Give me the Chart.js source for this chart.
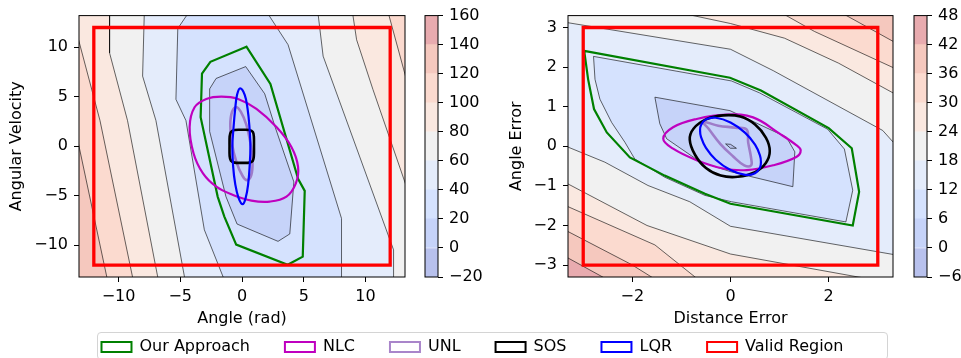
<!DOCTYPE html>
<html>
<head>
<meta charset="utf-8">
<script src="https://cdn.jsdelivr.net/npm/chart.js@4.4.1/dist/chart.umd.min.js"></script>
<style>
  body { margin: 0; background: #fff; width: 961px; height: 358px; overflow: hidden; position: relative; }
  canvas { position: absolute; }
  #legendFrame { position: absolute; left: 97px; top: 332px; width: 789px; height: 26px;
                 border: 1px solid #d4d4d4; border-radius: 4px; }
</style>
</head>
<body>
<div id="legendFrame"></div>
<canvas id="left" width="420" height="330" style="left:0;top:0"></canvas>
<canvas id="leftBar" width="70" height="300" style="left:420px;top:0"></canvas>
<canvas id="right" width="410" height="330" style="left:500px;top:0"></canvas>
<canvas id="rightBar" width="56" height="300" style="left:905px;top:0"></canvas>
<canvas id="legend" width="953" height="200" style="left:-4px;top:304px"></canvas>
<script>
// ticks and levels
const leftXTicks = [-10, -5, 0, 5, 10];
const leftYTicks = [-10, -5, 0, 5, 10];
const rightXTicks = [-2, 0, 2];
const rightYTicks = [-3, -2, -1, 0, 1, 2, 3];
const leftLevels = [-20, 0, 20, 40, 60, 80, 100, 120, 140, 160];
const rightLevels = [-6, 0, 6, 12, 18, 24, 30, 36, 42, 48];
const bandColors = ['#b8c1ed', '#c6d3f9', '#d5e2fe', '#e4ecfb', '#f1f1f1', '#fae8e0', '#fbdacf', '#f5c8be', '#e8abaf'];

// legend
const methods = ['Our Approach', 'NLC', 'UNL', 'SOS', 'LQR', 'Valid Region'];
const methodColors = ['#008000', '#bf00bf', 'rgba(148,103,189,0.8)', '#000000', '#0000ff', '#ff0000'];

// left panel: filled contour regions (sublevel sets, outer to inner)
const leftBackground = [[-30,-30],[30,-30],[30,30],[-30,30],[-30,-30]];
const leftBand6 = [[-30,1],[-13.37,1],[-10.81,-14],[-10.81,-30],[30,-30],[30,30],[-30,30],[-30,1]];
const leftBand5 = [[-30,12],[-13.5,12],[-11.5,2.6],[-8.73,-14],[-8.73,-30],[30,-30],[30,5.9],[13.5,5.9],[11.73,14],[11.73,30],[-30,30],[-30,12]];
const leftBand4 = [[-10.7,30],[-10.7,14],[-10.75,9.43],[-9.27,2.6],[-6.7,-14],[-6.7,-30],[30,-30],[30,-5.1],[13.6,-5.1],[10.6,5.75],[9.28,10.76],[8.89,14],[8.89,30],[-10.7,30]];
const leftBand3 = [[-7.9,30],[-7.9,14],[-8.05,7.09],[-6.97,2.6],[-4.54,-14],[-4.54,-30],[12.3,-30],[12.3,-14],[12.25,-10.46],[6.57,9.1],[6.1,14],[6.1,30],[-7.9,30]];
const leftBand2 = [[-4.05,30],[-4.05,14],[-5.2,11.9],[-5.35,4.74],[-4.54,2.6],[-3.05,-8.43],[-1.27,-14],[-1.27,-30],[8.06,-30],[8.06,-7.29],[3.73,10.26],[1.78,14],[1.78,30],[-4.05,30]];
const leftBand1 = [[-2.1,6.85],[0.3,8.05],[1.84,5.3],[2.65,2.07],[4.2,-3.6],[3.87,-8.85],[2.92,-9.6],[-0.4,-7.85],[-1.3,-5.08],[-2.62,1.5],[-2.62,5.8],[-2.1,6.85]];

// left panel: regions of attraction
const leftOurApproach = [[0.36,10.06],[-2.56,8.53],[-3.24,7.35],[-3.35,2.94],[-1.97,-5.08],[-1.43,-7.1],[-0.47,-9.93],[3.7,-11.97],[4.92,-11.15],[5.08,-4.5],[4.55,-3.3],[2.3,6.3]];
const leftNLC = [[-4.24,1.94],[-3.84,3.94],[-2.89,4.78],[-1.67,5.02],[-0.32,4.78],[1.17,3.78],[2.79,1.94],[4.0,-0.07],[4.54,-2.08],[4.36,-3.74],[3.6,-5.08],[2.25,-5.58],[0.76,-5.48],[-0.73,-4.91],[-2.08,-4.08],[-3.16,-2.74],[-3.92,-0.73]];
const leftUNL = [[-0.45,3.95],[-0.1,3.5],[0.35,2.2],[0.7,0.2],[0.85,-1.5],[0.75,-2.9],[0.4,-3.42],[0.05,-3.0],[-0.45,-1.6],[-0.85,0.5],[-0.95,2.2],[-0.8,3.5]];
const leftSOS = [[-0.6,1.65],[0,1.67],[0.6,1.65],[0.88,1.45],[0.96,1.0],[0.97,0],[0.96,-1.0],[0.88,-1.45],[0.6,-1.65],[0,-1.67],[-0.6,-1.65],[-0.9,-1.45],[-1.0,-1.0],[-1.01,0],[-1.0,1.0],[-0.9,1.45]];
const leftLQR = [[-0.15,5.85],[0.22,5.2],[0.45,3.8],[0.6,2],[0.68,0],[0.62,-2],[0.5,-3.8],[0.3,-5.2],[0.05,-5.85],[-0.28,-5.2],[-0.55,-3.8],[-0.72,-2],[-0.78,0],[-0.68,2],[-0.55,3.8],[-0.4,5.2]];
const leftValid = [[-12,-12],[12,-12],[12,12],[-12,12]];

// right panel: filled contour regions
const rightBackground = [[-10,-10],[10,-10],[10,10],[-10,10],[-10,-10]];
const rightBand7 = [[-10,-2.69],[-3.5,-2.69],[-2.31,-3.5],[-2.31,-10],[10,-10],[10,10],[-10,10],[-10,-2.69]];
const rightBand6 = [[-10,-2.03],[-3.5,-2.03],[-2.01,-2.99],[-1.35,-3.5],[-1.35,-10],[10,-10],[10,2.52],[3.5,2.52],[2.07,3.5],[2.07,10],[-10,10],[-10,-2.03]];
const rightBand5 = [[-10,-1.42],[-3.5,-1.42],[-1.54,-2.49],[-0.52,-3.5],[-0.52,-10],[10,-10],[10,1.88],[3.5,1.88],[1.71,2.9],[0.85,3.5],[0.85,10],[-10,10],[-10,-1.42]];
const rightBand4 = [[-10,-0.82],[-3.5,-0.82],[-3.31,-0.95],[-1.7,-2.0],[0,-2.72],[2.6,-3.3],[3.6,-3.5],[3.6,-10],[10,-10],[10,1.22],[3.5,1.22],[2.2,2.1],[1.1,2.73],[0,3.1],[-0.76,3.3],[-1.5,3.5],[-1.5,10],[-10,10],[-10,-0.82]];
const rightBand3 = [[-3.5,3.16],[-3.31,3.12],[0,2.45],[0.87,1.91],[3.1,0.4],[3.31,0.11],[3.5,-0.15],[3.5,-2.77],[3.31,-2.73],[0,-2.02],[-0.83,-1.4],[-1.68,-0.99],[-2.56,-0.4],[-3.31,-0.02],[-3.5,0.06],[-3.5,3.16]];
const rightBand2 = [[-2.79,2.27],[0.02,1.65],[0.59,1.35],[1.98,0.43],[2.32,-0.07],[2.49,-1.11],[2.35,-1.91],[0.02,-1.4],[-0.52,-1.24],[-1.34,-0.78],[-1.95,-0.32],[-2.15,0.1],[-2.42,0.6],[-2.66,1.19],[-2.76,1.69],[-2.79,2.27]];
const rightBand1 = [[-1.54,1.24],[-0.01,0.9],[1.14,0.23],[1.31,-0.14],[1.27,-1.02],[0,-0.64],[-0.62,-0.39],[-1.3,0.19],[-1.44,0.57],[-1.54,1.24]];
const rightBand0 = [[-0.1,0.06],[0.0,0.05],[0.12,-0.05],[0.0,-0.05],[-0.1,0.06]];

// right panel: regions of attraction
const rightOurApproach = [[-2.98,2.41],[-0.01,1.73],[0.62,1.41],[2.0,0.46],[2.47,-0.05],[2.62,-1.15],[2.49,-2.0],[0.0,-1.45],[-0.52,-1.2],[-1.34,-0.74],[-2.05,-0.28],[-2.52,0.35],[-2.78,0.94],[-2.9,1.69]];
const rightNLC = [[-1.37,0.19],[-1.17,0.48],[-0.69,0.69],[-0.08,0.8],[0.46,0.73],[1.0,0.32],[1.34,0.03],[1.43,-0.1],[1.34,-0.27],[0.87,-0.48],[0.33,-0.6],[-0.15,-0.56],[-0.69,-0.35],[-1.17,-0.06]];
const rightUNL = [[-0.56,0.62],[-0.25,0.52],[0.1,0.47],[0.33,0.42],[0.36,0.1],[0.42,-0.3],[0.42,-0.48],[0.28,-0.48],[0.05,-0.25],[-0.2,0.05],[-0.45,0.45]];
const rightSOS = [[-0.83,0.17],[-0.75,0.45],[-0.5,0.68],[-0.15,0.78],[0.2,0.75],[0.5,0.55],[0.72,0.22],[0.8,-0.12],[0.72,-0.42],[0.5,-0.65],[0.15,-0.77],[-0.2,-0.74],[-0.5,-0.55],[-0.72,-0.22]];
const rightLQR = [[-0.62,0.4],[-0.6,0.54],[-0.5,0.68],[-0.3,0.72],[0,0.6],[0.3,0.34],[0.5,0.04],[0.6,-0.23],[0.62,-0.4],[0.6,-0.54],[0.5,-0.68],[0.3,-0.72],[0,-0.6],[-0.3,-0.34],[-0.5,-0.04],[-0.6,0.23]];
const rightValid = [[-3,-3],[3,-3],[3,3],[-3,3]];

Chart.defaults.font.family = "'DejaVu Sans', sans-serif";
Chart.defaults.font.size = 16;
Chart.defaults.color = '#000';

const fmt = v => (v < 0 ? '\u2212' + Math.abs(v) : String(v));
const toXY = arr => arr.map(([x, y]) => ({ x, y }));

// closes curves and draws the axes frame
const helpers = {
    id: 'helpers',
    afterDatasetUpdate(chart, args) {
        const ds = chart.data.datasets[args.index];
        if (ds.closed) {
            args.meta.dataset._loop = true;
            args.meta.dataset._fullLoop = true;
        }
    },
    afterDraw(chart) {
        const a = chart.chartArea;
        const ctx = chart.ctx;
        ctx.save();
        ctx.strokeStyle = '#000';
        ctx.lineWidth = 1;
        ctx.strokeRect(a.left, a.top, a.right - a.left, a.bottom - a.top);
        ctx.restore();
    }
};

function band(points, color, edge = true) {
    return {
        data: toXY(points), fill: 'shape', backgroundColor: color,
        borderColor: '#000', borderWidth: edge ? 0.6 : 0, tension: 0
    };
}

const methodWidths = [2.2, 2.2, 2.6, 2.6, 2.2, 3.3];
const methodTension = [0, 0.4, 0.4, 0.3, 0.4, 0];

function method(points, i) {
    return {
        data: toXY(points), closed: true, fill: false,
        borderColor: methodColors[i], borderWidth: methodWidths[i],
        tension: methodTension[i], borderJoinStyle: 'miter'
    };
}

function plot(id, layers, range, xTicks, yTicks, xTitle, yTitle, yWidth, padRight) {
    // first layer in list = drawn first
    layers.forEach((d, i) => { d.order = layers.length - i; });
    new Chart(document.getElementById(id), {
        type: 'line',
        data: { datasets: layers },
        options: {
            responsive: false,
            animation: false,
            events: [],
            elements: { point: { radius: 0 } },
            layout: { padding: { top: 15, right: padRight, left: 0, bottom: 0 } },
            plugins: { legend: { display: false }, tooltip: { enabled: false } },
            scales: {
                x: {
                    type: 'linear', min: -range[0], max: range[0],
                    afterBuildTicks: s => { s.ticks = xTicks.map(v => ({ value: v })); },
                    afterFit: s => { s.height = 53; },
                    grid: { drawOnChartArea: false, tickLength: 5, color: '#000' },
                    border: { display: false },
                    ticks: { padding: 5, maxRotation: 0, autoSkip: false, callback: fmt },
                    title: { display: true, text: xTitle, padding: { top: 0, bottom: 2 } }
                },
                y: {
                    type: 'linear', min: -range[1], max: range[1],
                    afterBuildTicks: s => { s.ticks = yTicks.map(v => ({ value: v })); },
                    afterFit: s => { s.width = yWidth; },
                    grid: { drawOnChartArea: false, tickLength: 5, color: '#000' },
                    border: { display: false },
                    ticks: { padding: 6, autoSkip: false, callback: fmt },
                    title: { display: true, text: yTitle, padding: { top: 7, bottom: 0 } }
                }
            }
        },
        plugins: [helpers]
    });
}

function colorbar(id, levels, padLeft, yWidth) {
    new Chart(document.getElementById(id), {
        type: 'bar',
        data: {
            labels: [''],
            datasets: bandColors.map((c, i) => ({
                data: [[levels[i], levels[i + 1]]], backgroundColor: c, borderWidth: 0,
                grouped: false, barPercentage: 1, categoryPercentage: 1
            }))
        },
        options: {
            responsive: false,
            animation: false,
            events: [],
            layout: { padding: { top: 15, bottom: 23, left: padLeft, right: 0 } },
            plugins: { legend: { display: false }, tooltip: { enabled: false } },
            scales: {
                x: { display: false },
                y: {
                    position: 'right', min: levels[0], max: levels[levels.length - 1],
                    afterBuildTicks: s => { s.ticks = levels.map(v => ({ value: v })); },
                    afterFit: s => { s.width = yWidth; },
                    grid: { drawOnChartArea: false, tickLength: 5, color: '#000' },
                    border: { display: false },
                    ticks: { padding: 6, autoSkip: false, callback: fmt }
                }
            }
        },
        plugins: [helpers]
    });
}

plot('left', [
    band(leftBackground, bandColors[7], false),
    band(leftBand6, bandColors[6]),
    band(leftBand5, bandColors[5]),
    band(leftBand4, bandColors[4]),
    band(leftBand3, bandColors[3]),
    band(leftBand2, bandColors[2]),
    band(leftBand1, bandColors[1]),
    method(leftOurApproach, 0),
    method(leftNLC, 1),
    method(leftUNL, 2),
    method(leftSOS, 3),
    method(leftLQR, 4),
    method(leftValid, 5)
], [13.2, 13.2], leftXTicks, leftYTicks, 'Angle (rad)', 'Angular Velocity', 79, 15);

plot('right', [
    band(rightBackground, bandColors[8], false),
    band(rightBand7, bandColors[7]),
    band(rightBand6, bandColors[6]),
    band(rightBand5, bandColors[5]),
    band(rightBand4, bandColors[4]),
    band(rightBand3, bandColors[3]),
    band(rightBand2, bandColors[2]),
    band(rightBand1, bandColors[1]),
    band(rightBand0, bandColors[0]),
    method(rightOurApproach, 0),
    method(rightNLC, 1),
    method(rightUNL, 2),
    Object.assign(method(rightSOS, 3), { tension: 0.4 }),
    method(rightLQR, 4),
    method(rightValid, 5)
], [3.31, 3.3], rightXTicks, rightYTicks, 'Distance Error', 'Angle Error', 68, 17);

colorbar('leftBar', leftLevels, 5, 52);
colorbar('rightBar', rightLevels, 9, 34);

// shared legend
new Chart(document.getElementById('legend'), {
    type: 'line',
    data: {
        datasets: methods.map((m, i) => ({
            label: m, data: [], borderColor: methodColors[i],
            backgroundColor: '#ffffff', borderWidth: 2
        }))
    },
    options: {
        responsive: false,
        animation: false,
        events: [],
        scales: { x: { display: false }, y: { display: false } },
        plugins: {
            tooltip: { enabled: false },
            legend: {
                position: 'top',
                labels: { boxWidth: 30, boxHeight: 10, padding: 35, color: '#000', font: { size: 16 } }
            }
        }
    }
});
</script>
</body>
</html>
